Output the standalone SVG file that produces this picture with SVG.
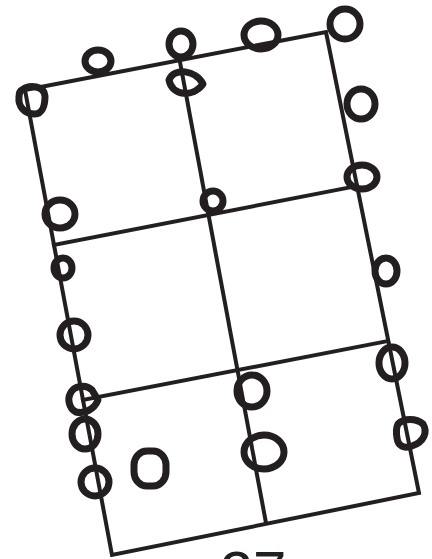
<svg xmlns="http://www.w3.org/2000/svg" width="432" height="559" viewBox="0 0 432 559">
<style>
.g{fill:none;stroke:#231f20;stroke-width:4;stroke-linecap:square;stroke-linejoin:miter}
.c{fill:none;stroke:#231f20;stroke-width:7;stroke-linejoin:round}
.t{font-family:"Liberation Sans",Arial,sans-serif;font-size:60px;fill:#231f20}
</style>
<rect width="432" height="559" fill="#fff"/>
<g id="grid">
<path class="g" d="M25,90 L326,32 L419,493 L112,555 Z"/>
<path class="g" d="M180,62 L266,523"/>
<path class="g" d="M54,245 L357,186"/>
<path class="g" d="M83,400 L388,341"/>
</g>
<g id="loops">
<path class="c" d="M22,90 C30,84 44,86 45,96 C45,106 42,114 35,114 C24,114 18,106 19,97 C19,93 20,91 22,90 Z"/>
<ellipse class="c" cx="98" cy="61" rx="13" ry="11"/>
<ellipse class="c" cx="181" cy="44" rx="12" ry="13"/>
<path class="c" d="M169,80 C174,67 196,70 203,84 C193,98 172,96 169,80 Z"/>
<ellipse class="c" cx="60" cy="214" rx="15" ry="14"/>
<ellipse class="c" cx="63" cy="268" rx="9" ry="10"/>
<ellipse class="c" cx="213" cy="201" rx="10" ry="10"/>
<ellipse class="c" cx="261" cy="35" rx="17" ry="14"/>
<ellipse class="c" cx="345" cy="24" rx="15" ry="15"/>
<ellipse class="c" cx="361" cy="104" rx="14" ry="15"/>
<ellipse class="c" cx="362" cy="177" rx="15" ry="12"/>
<ellipse class="c" cx="386" cy="271" rx="11" ry="13"/>
<ellipse class="c" cx="74" cy="335" rx="14" ry="14"/>
<path class="c" d="M70,394 C74,385 86,384 92,390 L98,400 C94,410 84,414 76,412 C68,408 68,398 70,394 Z"/>
<ellipse class="c" cx="85" cy="434" rx="13" ry="15"/>
<ellipse class="c" cx="95" cy="482" rx="14" ry="14"/>
<rect class="c" x="134" y="451" width="32" height="35" rx="13" ry="14"/>
<ellipse class="c" cx="252" cy="391" rx="15" ry="16"/>
<ellipse class="c" cx="264" cy="452" rx="20" ry="17"/>
<ellipse class="c" cx="392" cy="363" rx="13" ry="16"/>
<path class="c" d="M398,424 C404,418 416,418 423,424 C428,432 424,442 412,446 C404,449 398,446 397,438 C396,432 396,428 398,424 Z"/>
</g>
<text class="t" x="253" y="593" text-anchor="middle">27</text>
</svg>
